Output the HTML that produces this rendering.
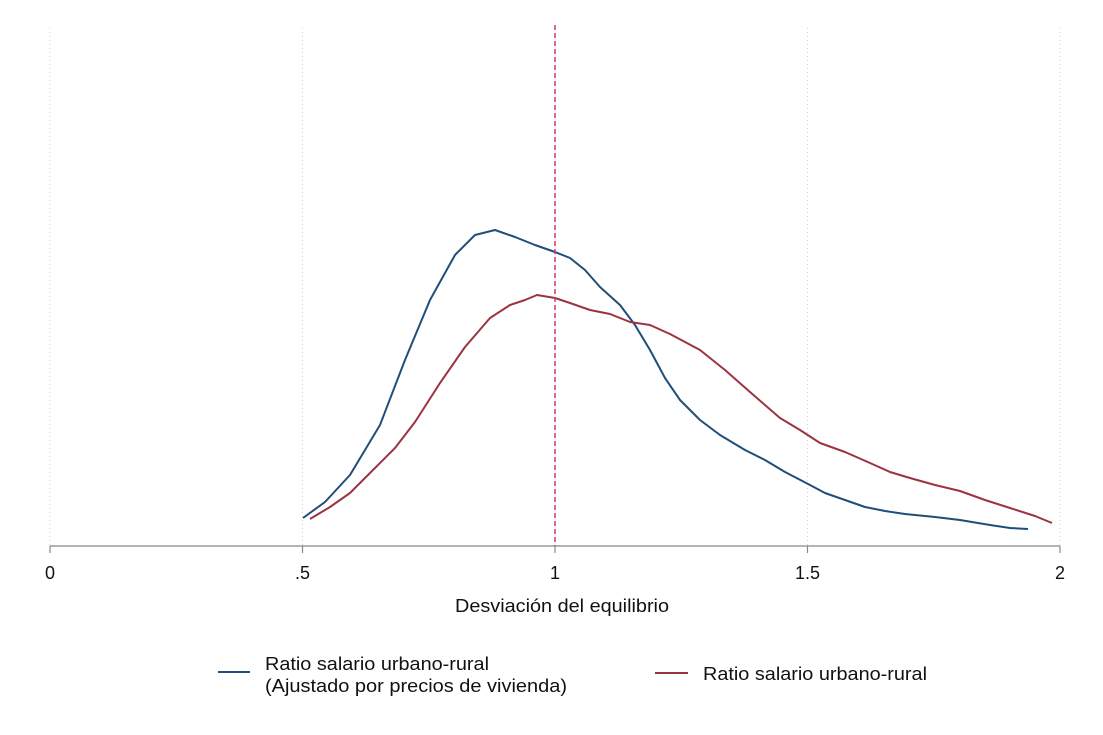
<!DOCTYPE html>
<html><head><meta charset="utf-8"><style>
body{margin:0;background:#fff;}
svg{display:block;font-family:"Liberation Sans",Arial,sans-serif;}
</style></head><body>
<svg width="1103" height="735" viewBox="0 0 1103 735">
<rect width="1103" height="735" fill="#fff"/>
<g stroke="#d0d0d0" stroke-width="1" stroke-dasharray="1,3">
<line x1="50" y1="28" x2="50" y2="546"/>
<line x1="302.5" y1="28" x2="302.5" y2="546"/>
<line x1="807.5" y1="28" x2="807.5" y2="546"/>
<line x1="1060" y1="28" x2="1060" y2="546"/>
</g>
<line x1="50" y1="546" x2="1060" y2="546" stroke="#888" stroke-width="1.2"/>
<g stroke="#888" stroke-width="1.2">
<line x1="50" y1="546" x2="50" y2="553"/>
<line x1="302.5" y1="546" x2="302.5" y2="553"/>
<line x1="555" y1="546" x2="555" y2="553"/>
<line x1="807.5" y1="546" x2="807.5" y2="553"/>
<line x1="1060" y1="546" x2="1060" y2="553"/>
</g>
<g font-size="18" fill="#111" text-anchor="middle">
<text x="50" y="579">0</text>
<text x="302.5" y="579">.5</text>
<text x="555" y="579">1</text>
<text x="807.5" y="579">1.5</text>
<text x="1060" y="579">2</text>
</g>
<text x="455" y="612" font-size="18" fill="#111" textLength="214" lengthAdjust="spacingAndGlyphs">Desviación del equilibrio</text>
<polyline fill="none" stroke="#1f4e79" stroke-width="2" stroke-linejoin="round" points="303,518 325,502 350,475 380,425 405,360 430,300 455,255 475,235 495,230 515,237 535,245 555,252 570,258 585,270 600,287 620,305 635,325 650,350 665,378 680,400 700,420 720,435 745,450 765,460 785,472 810,485 825,493 845,500 865,507 885,511 905,514 935,517 960,520 990,525 1010,528 1028,529"/>
<polyline fill="none" stroke="#9b3340" stroke-width="2" stroke-linejoin="round" points="310,519 330,507 350,493 375,468 395,448 415,422 440,383 465,347 490,318 510,305 525,300 537,295 555,298 570,303 590,310 610,314 630,322 650,325 670,334 700,350 725,370 750,392 780,418 800,430 820,443 845,452 870,463 890,472 910,478 935,485 960,491 985,500 1010,508 1035,516 1052,523"/>
<line x1="555" y1="25" x2="555" y2="546" stroke="#e0306e" stroke-width="1.5" stroke-dasharray="5,3"/>
<line x1="218" y1="672" x2="250" y2="672" stroke="#1f4e79" stroke-width="2"/>
<line x1="655" y1="673" x2="688" y2="673" stroke="#9b3340" stroke-width="2"/>
<g font-size="18" fill="#111">
<text x="265" y="670" textLength="224" lengthAdjust="spacingAndGlyphs">Ratio salario urbano-rural</text>
<text x="265" y="692" textLength="302" lengthAdjust="spacingAndGlyphs">(Ajustado por precios de vivienda)</text>
<text x="703" y="680" textLength="224" lengthAdjust="spacingAndGlyphs">Ratio salario urbano-rural</text>
</g>
</svg>
</body></html>
